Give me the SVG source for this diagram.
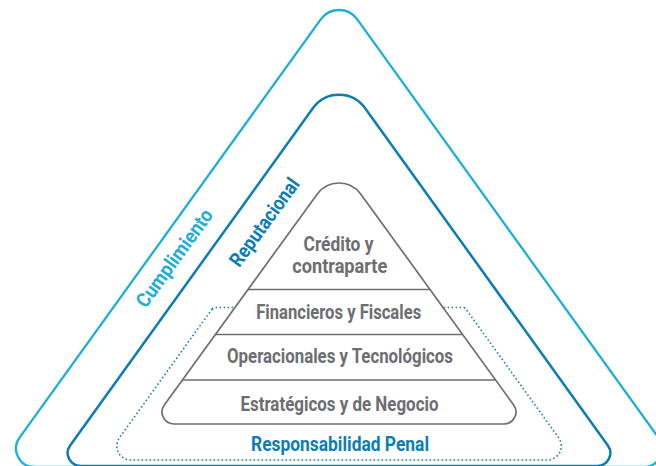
<svg xmlns="http://www.w3.org/2000/svg" width="656" height="466" viewBox="0 0 656 466">
  <style>
    .lbl { font-family: Roboto, "Liberation Sans", Arial, sans-serif; font-weight: 700; font-size: 20px; }
    .gray { fill: #6d6e71; }
    .cyan { fill: #1cafd8; }
    .blue { fill: #0c7db3; }
    .ring { fill: none; stroke-linejoin: round; }
  </style>
  <rect width="656" height="466" fill="#ffffff"/>

  <g id="cumplimiento">
    <path class="ring" stroke="#1cafd8" stroke-width="2.3"
      d="M 320.74 19.36 A 22.5 22.5 0 0 1 357.26 19.36 L 658.46 437.70 A 18.5 18.5 0 0 1 644.45 467 L 34.55 467 A 18.5 18.5 0 0 1 19.54 437.70 Z"/>
    <text class="lbl cyan" transform="translate(179.9,262.1) rotate(-54)" text-anchor="middle" textLength="116" lengthAdjust="spacingAndGlyphs">Cumplimiento</text>
  </g>

  <g id="reputacional">
    <path class="ring" stroke="#0c7db3" stroke-width="2.5"
      d="M 313.03 108.07 A 32 32 0 0 1 364.97 108.07 L 607.85 445.41 A 13 13 0 0 1 597.30 466 L 80.70 466 A 13 13 0 0 1 70.15 445.41 Z"/>
    <text class="lbl blue" transform="translate(269.9,226.3) rotate(-54)" text-anchor="middle" textLength="104" lengthAdjust="spacingAndGlyphs">Reputacional</text>
  </g>

  <g id="responsabilidad-penal">
    <path class="ring" stroke="#1a80b8" stroke-width="1.6" stroke-dasharray="1.6 2.4"
      d="M 212.0 309.16 A 4 4 0 0 1 215.25 307.5 L 462.75 307.5 A 4 4 0 0 1 466.0 309.16 L 558.63 437.82 A 14 14 0 0 1 547.27 460 L 130.73 460 A 14 14 0 0 1 119.37 437.82 Z"/>
    <text class="lbl blue" x="340" y="450.7" text-anchor="middle" textLength="178" lengthAdjust="spacingAndGlyphs">Responsabilidad Penal</text>
  </g>

  <g id="piramide">
    <path fill="#ffffff" stroke="#6d6e71" stroke-width="1.7" stroke-linejoin="round"
      d="M 317.14 194.15 A 27 27 0 0 1 360.86 194.15 L 513.69 404.96 A 12 12 0 0 1 503.98 424 L 174.02 424 A 12 12 0 0 1 164.31 404.96 Z"/>
    <g stroke="#6d6e71" stroke-width="1.7">
      <line x1="248.0" y1="289.5" x2="430.0" y2="289.5"/>
      <line x1="215.4" y1="334.5" x2="462.6" y2="334.5"/>
      <line x1="182.4" y1="380" x2="495.6" y2="380"/>
    </g>
  </g>

  <g id="credito">
    <text class="lbl gray" x="338.5" y="251" text-anchor="middle" textLength="70" lengthAdjust="spacingAndGlyphs">Crédito y</text>
    <text class="lbl gray" x="339.8" y="273.3" text-anchor="middle" textLength="95" lengthAdjust="spacingAndGlyphs">contraparte</text>
  </g>
  <g id="financieros">
    <text class="lbl gray" x="338.7" y="319" text-anchor="middle" textLength="165" lengthAdjust="spacingAndGlyphs">Financieros y Fiscales</text>
  </g>
  <g id="operacionales">
    <text class="lbl gray" x="340" y="362.7" text-anchor="middle" textLength="226" lengthAdjust="spacingAndGlyphs">Operacionales y Tecnológicos</text>
  </g>
  <g id="estrategicos">
    <text class="lbl gray" x="339.5" y="410.7" text-anchor="middle" textLength="198" lengthAdjust="spacingAndGlyphs">Estratégicos y de Negocio</text>
  </g>
</svg>
